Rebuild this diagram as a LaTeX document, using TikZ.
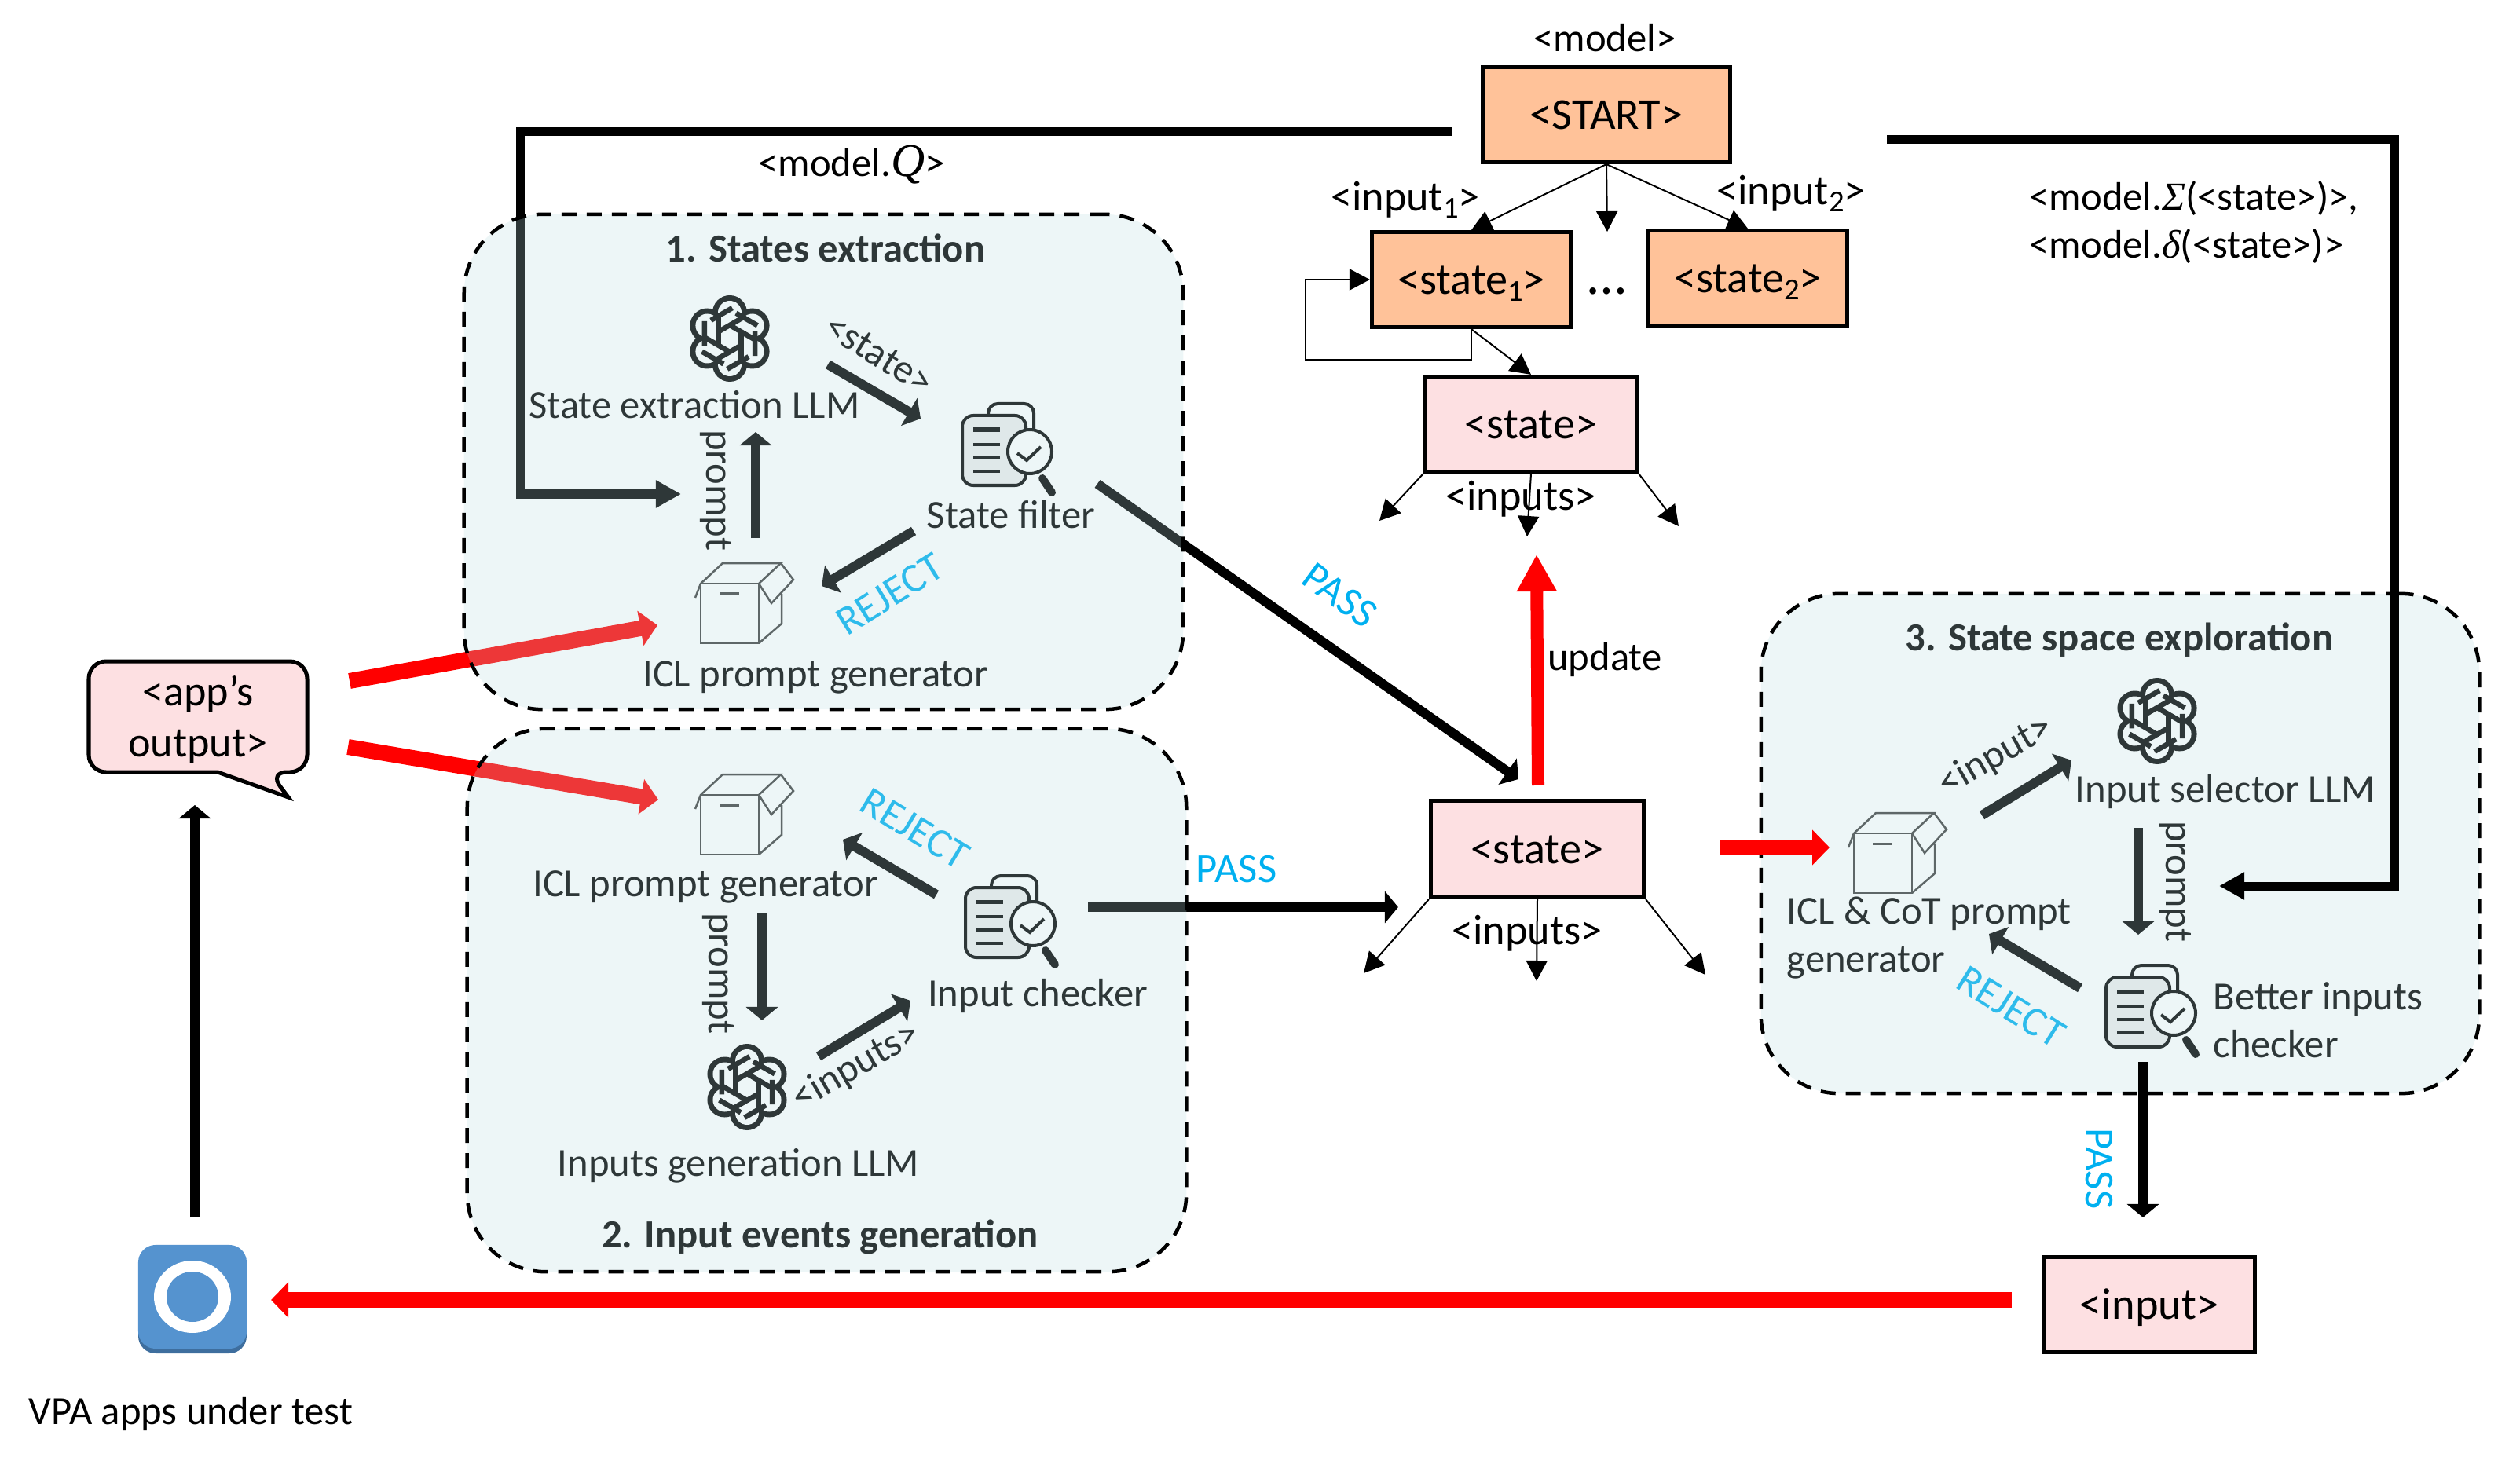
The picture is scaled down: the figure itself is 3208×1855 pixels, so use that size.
\documentclass[tikz,border=0pt]{standalone}
\usepackage{fontspec}
\setmainfont{Carlito}
\newfontfamily\symfont{Liberation Serif}
\usetikzlibrary{arrows.meta,positioning,calc}
\definecolor{peach}{RGB}{255,194,153}
\definecolor{blush}{RGB}{253,224,226}
\definecolor{tint}{RGB}{184,220,224}
\definecolor{verdictblue}{RGB}{0,176,240}
\definecolor{appblue}{RGB}{85,147,207}
\definecolor{appdark}{RGB}{62,110,158}
\newcommand{\lowsub}[1]{\raisebox{-0.09cm}{\fontsize{11}{11}\selectfont #1}}
\tikzset{
  x=0.01cm, y=-0.01cm,
  lbl/.style={inner sep=0pt, font=\fontsize{14.4}{17.4}\selectfont},
  biglbl/.style={inner sep=0pt, font=\fontsize{15.4}{18.5}\selectfont},
  title/.style={inner sep=0pt, font=\fontsize{14.4}{17}\selectfont\bfseries},
  verdict/.style={inner sep=0pt, text=verdictblue, font=\fontsize{15}{17}\selectfont},
  stbox/.style={draw, line width=0.05cm, inner sep=0pt, minimum height=1.21cm, text height=0.46cm, text depth=0.10cm, font=\fontsize{16}{18}\selectfont},
  peachbox/.style={stbox, fill=peach},
  blushbox/.style={stbox, fill=blush},
  iconspot/.style={inner sep=0pt, minimum size=1.1cm},
  glass/.style={draw, line width=0.045cm, dash pattern=on 0.19cm off 0.13cm, rounded corners=1cm,
    fill=tint, fill opacity=0.25, inner sep=0pt},
  flow/.style={-{Triangle[length=0.17cm,width=0.4cm]}, line width=0.12cm},
  flowbig/.style={-{Triangle[length=0.32cm,width=0.33cm]}, line width=0.11cm},
  redflow/.style={-{Triangle[length=0.22cm,width=0.44cm]}, line width=0.2cm, red},
  thinflow/.style={-{Triangle[length=0.26cm,width=0.27cm]}, line width=0.02cm},
  pics/llmlogo/.style={code={
    \foreach \a in {30,90,...,330} {\fill (\a:33) circle (22);}
    \foreach \a in {30,90,...,330} {\fill[white] (\a:33) circle (15);}
    \fill[white] (0,0) circle (30);
    \foreach \a [evaluate=\a as \b using \a+60] in {30,90,...,330} {
      \draw[line width=0.065cm] (\a:17) -- ($(\a:17)!2.1!(\b:17)$);
      \draw[line width=0.065cm] ($(\a:37)!0.25!(\b:37)$) -- ($(\a:37)!1.1!(\b:37)$);
    }
  }},
  pics/boxicon/.style={code={
    \draw[line width=0.025cm, draw=black!75] (-55,-25) rectangle (19,51);
    \draw[line width=0.025cm, draw=black!75] (-62,-7) -- (-55,-25) -- (-27,-51) -- (47,-51) -- (19,-25)
      (47,-51) -- (63,-30) -- (35,0) -- (19,-25)
      (48,-12) -- (48,26) -- (19,51);
    \draw[line width=0.03cm, draw=black!75] (-31,-12) -- (-6,-12);
  }},
  pics/checkicon/.style={code={
    \draw[line width=0.04cm, rounded corners=0.12cm] (-27,-42) -- (-27,-57) -- (31,-57) -- (31,-20);
    \draw[line width=0.04cm, fill=black!7, rounded corners=0.14cm] (-60,-42) rectangle (21,47);
    \draw[line width=0.05cm] (-46,-24) -- (-12,-24);
    \foreach \y in {-5,12,29} {\draw[line width=0.035cm] (-46,\y) -- (-12,\y);}
    \draw[line width=0.04cm, fill=white] (26,4) circle (28);
    \draw[line width=0.04cm] (10,6) -- (22,15) -- (40,-2);
    \draw[line width=0.1cm, line cap=round] (42,38) -- (54,56);
  }}
}
\begin{document}
\begin{tikzpicture}
  \useasboundingbox (0,0) rectangle (3208,1855);

  % State machine
  \node[peachbox, minimum width=3.15cm] (start) at (2045,146) {<START>};
  \node[peachbox, minimum width=2.53cm] (stateOne) at (1873,356) {<state\lowsub{1}>};
  \node[peachbox, minimum width=2.53cm] (stateTwo) at (2225,354) {<state\lowsub{2}>};
  \node[blushbox, minimum width=2.69cm] (stateA) at (1949,540) {<state>};
  \node[blushbox, minimum width=2.71cm, minimum height=1.23cm] (stateB) at (1957,1081) {<state>};
  \node[blushbox, minimum width=2.69cm] (inputBox) at (2736,1661) {<input>};
  \node[lbl] (lblModel) at (2043,48) {<model>};
  \node[biglbl] (lblInputOne) at (1789,254) {<input\lowsub{1}>};
  \node[biglbl] (lblInputTwo) at (2280,246) {<input\lowsub{2}>};
  \node[inner sep=0pt, font=\fontsize{20}{20}\selectfont] (lblDots) at (2046,371) {\dots};
  \node[biglbl] (lblInputsA) at (1936,635) {<inputs>};
  \node[biglbl] (lblInputsB) at (1944,1188) {<inputs>};
  \node[lbl] (lblUpdate) at (2043,840) {update};
  \node[lbl] (lblQ) at (1084,210) {<model.{\symfont\itshape\fontsize{17}{17}\selectfont Q}>};
  \node[lbl, anchor=west, align=left] (lblSigma) at (2583,283) {<model.{\symfont\itshape Σ}(<state>)>,\\<model.{\symfont\itshape δ}(<state>)>};
  \coordinate (dotsEnd) at (2046,295);
  \coordinate (fanLeftA) at (1756,663);
  \coordinate (fanMidA) at (1944,683);
  \coordinate (fanRightA) at (2137,670);
  \coordinate (fanLeftB) at (1736,1239);
  \coordinate (fanMidB) at (1956,1249);
  \coordinate (fanRightB) at (2171,1241);
  \coordinate (loopTurn) at (1662,458);
  \draw[thinflow] (start.south) -- (stateOne.north);
  \draw[thinflow] (start.south) -- (dotsEnd);
  \draw[thinflow] (start.south) -- (stateTwo.north);
  \draw[thinflow] (stateOne.south) -- (stateA.north);
  \draw[thinflow] (stateOne.south) |- (loopTurn) |- (stateOne.west);
  \draw[thinflow] (stateA.south west) -- (fanLeftA);
  \draw[thinflow] (stateA.south) -- (fanMidA);
  \draw[thinflow] (stateA.south east) -- (fanRightA);
  \draw[thinflow] (stateB.south west) -- (fanLeftB);
  \draw[thinflow] (stateB.south) -- (fanMidB);
  \draw[thinflow] (stateB.south east) -- (fanRightB);

  % App under test
  \fill[appdark, rounded corners=0.22cm] (176,1600) rectangle (314,1723);
  \node[fill=appblue, rounded corners=0.22cm, minimum width=1.38cm, minimum height=1.32cm, inner sep=0pt] (vpa) at (245,1651) {};
  \fill[white] (vpa.center) ellipse (49 and 46);
  \fill[appblue] (vpa.center) ellipse (33 and 32);
  \node[lbl] (lblVpa) at (243,1800) {VPA apps under test};
  \draw[line width=0.05cm, fill=blush, rounded corners=0.22cm] (277,983) -- (113,983) -- (113,842) -- (391,842) -- (391,983) -- (343,983) [sharp corners] -- (367,1015) -- cycle;
  \node[biglbl, align=center] (appOut) at (252,916) {<app’s\\output>};
  \draw[flow] ([shift={(3,-101)}]vpa.center) -- ([shift={(-4,109)}]appOut.center);
  \draw[redflow] ([shift={(-38,-6)}]inputBox.west) -- ([shift={(100,4)}]vpa.center);

  % 1. States extraction
  \node[iconspot] (llmA) at (929,431) {};
  \node[iconspot] (filterA) at (1285,571) {};
  \node[iconspot] (iclA) at (947,768) {};
  \pic at (llmA) {llmlogo};
  \pic at (filterA) {checkicon};
  \pic at (iclA) {boxicon};
  \node[title] (titleA) at (1051,316) {1. States extraction};
  \node[lbl] (lblLlmA) at (884,515) {State extraction LLM};
  \node[lbl] (lblFilterA) at (1287,655) {State filter};
  \node[lbl] (lblIclA) at (1038,862) {ICL prompt generator};
  \node[lbl, rotate=-32] (lblStateA) at (1119,451) {<state>};
  \node[lbl, rotate=-90] (lblPromptA) at (911,624) {prompt};
  \node[verdict, rotate=32] (lblRejectA) at (1133,756) {REJECT};
  \coordinate (qTurn) at (662,629);
  \draw[flowbig] ([shift={(-37,22)}]start.west) -| (qTurn) -- ([shift={(-80,-139)}]iclA.center);
  \draw[flow] ([shift={(125,33)}]llmA.center) -- ([shift={(-113,-38)}]filterA.center);
  \draw[flow] ([shift={(15,-83)}]iclA.center) -- ([shift={(33,119)}]llmA.center);
  \draw[flow] ([shift={(-122,105)}]filterA.center) -- ([shift={(99,-22)}]iclA.center);
  \draw[redflow] ([shift={(193,-49)}]appOut.center) -- ([shift={(-110,28)}]iclA.center);

  % 2. Input events generation
  \node[iconspot] (iclB) at (947,1037) {};
  \node[iconspot] (checkB) at (1289,1172) {};
  \node[iconspot] (llmB) at (951,1384) {};
  \pic at (iclB) {boxicon};
  \pic at (checkB) {checkicon};
  \pic at (llmB) {llmlogo};
  \node[title] (titleB) at (1044,1575) {2. Input events generation};
  \node[lbl] (lblIclB) at (898,1129) {ICL prompt generator};
  \node[lbl] (lblCheckB) at (1321,1268) {Input checker};
  \node[lbl] (lblLlmB) at (940,1484) {Inputs generation LLM};
  \node[lbl, rotate=-90] (lblPromptB) at (914,1239) {prompt};
  \node[lbl, rotate=30] (lblInputsLlm) at (1090,1358) {<inputs>};
  \node[verdict, rotate=-31] (lblRejectB) at (1165,1055) {REJECT};
  \draw[flow] ([shift={(23,126)}]iclB.center) -- ([shift={(19,-85)}]llmB.center);
  \draw[flow] ([shift={(91,-39)}]llmB.center) -- ([shift={(-130,102)}]checkB.center);
  \draw[flow] ([shift={(-97,-33)}]checkB.center) -- ([shift={(126,32)}]iclB.center);
  \draw[redflow] ([shift={(191,35)}]appOut.center) -- ([shift={(-109,-19)}]iclB.center);

  % Pass arrows
  \node[verdict, rotate=-36] (lblPassA) at (1706,758) {PASS};
  \node[verdict] (lblPassB) at (1574,1107) {PASS};
  \draw[flow] ([shift={(112,45)}]filterA.center) -- ([shift={(-24,-89)}]stateB.center);
  \draw[flow] ([shift={(96,-17)}]checkB.center) -- ([shift={(-39,74)}]stateB.west);
  \draw[-{Triangle[length=0.47cm,width=0.48cm]}, line width=0.16cm, red] ([shift={(1,-17)}]stateB.north) -- ([shift={(7,103)}]stateA.south);

  % 3. State space exploration
  \node[iconspot] (llmC) at (2746,918) {};
  \node[iconspot] (iclC) at (2415,1086) {};
  \node[iconspot] (checkC) at (2741,1286) {};
  \pic at (llmC) {llmlogo};
  \pic at (iclC) {boxicon};
  \pic at (checkC) {checkicon};
  \node[title] (titleC) at (2698,815) {3. State space exploration};
  \node[lbl] (lblLlmC) at (2833,1008) {Input selector LLM};
  \node[lbl, anchor=west, align=left] (lblIclC) at (2274,1194) {ICL \& CoT prompt\\generator};
  \node[lbl, anchor=west, align=left] (lblCheckC) at (2817,1299) {Better inputs\\checker};
  \node[lbl, rotate=30] (lblInputC) at (2541,963) {<input>};
  \node[lbl, rotate=-90] (lblPromptC) at (2769,1122) {prompt};
  \node[verdict, rotate=-32] (lblRejectC) at (2560,1282) {REJECT};
  \draw[flow] ([shift={(108,-48)}]iclC.center) -- ([shift={(-109,50)}]llmC.center);
  \draw[flow] ([shift={(-24,136)}]llmC.center) -- ([shift={(-19,-96)}]checkC.center);
  \draw[flow] ([shift={(-93,-28)}]checkC.center) -- ([shift={(117,103)}]iclC.center);

  % Shaded groups
  \node[glass, minimum width=9.15cm, minimum height=6.30cm] (groupA) at (1048.5,588) {};
  \node[glass, minimum width=9.15cm, minimum height=6.91cm] (groupB) at (1052.5,1273.5) {};
  \node[glass, minimum width=9.14cm, minimum height=6.36cm] (groupC) at (2699,1074) {};

  % Arrows over group 3
  \coordinate (sigmaTurn) at (3048,1128);
  \node[verdict, rotate=-90] (lblPassC) at (2672,1488) {PASS};
  \draw[flowbig] ([shift={(197,32)}]start.east) -| (sigmaTurn) -- ([shift={(84,-158)}]checkC.center);
  \draw[flow] ([shift={(-13,66)}]checkC.center) -- ([shift={(-8,-48)}]inputBox.north);
  \draw[redflow] ([shift={(95,-2)}]stateB.east) -- ([shift={(-86,-7)}]iclC.center);
\end{tikzpicture}
\end{document}
